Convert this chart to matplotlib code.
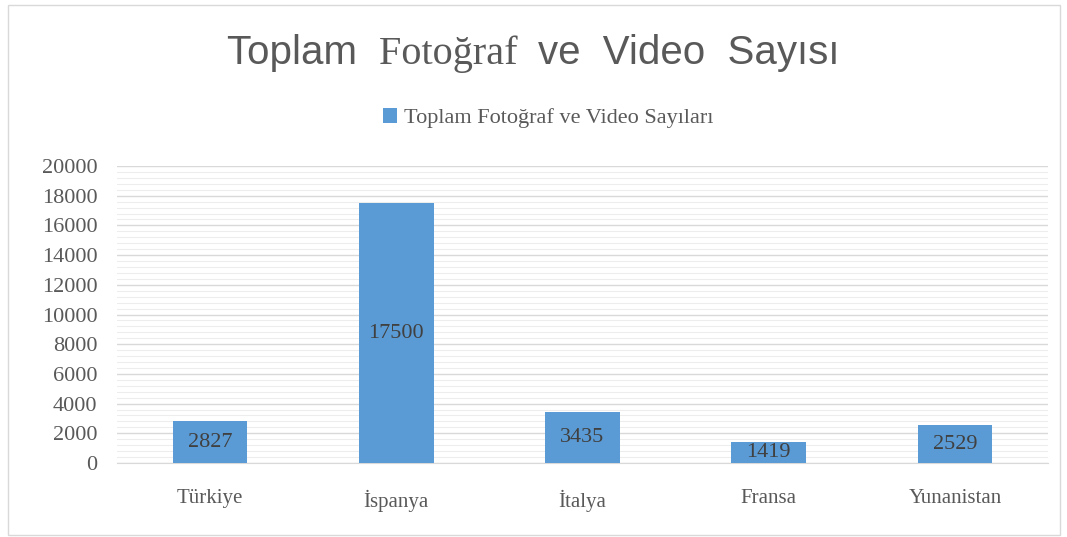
import matplotlib
matplotlib.use("Agg")
import matplotlib.pyplot as plt
from matplotlib.ticker import MultipleLocator
from matplotlib.patches import Rectangle

countries = ["Türkiye", "İspanya", "İtalya", "Fransa", "Yunanistan"]
counts = [2827, 17500, 3435, 1419, 2529]
series_name = "Toplam Fotoğraf ve Video Sayıları"

blue = "#5B9BD5"
grey = "#595959"
serif = "Liberation Serif"
sans = "Liberation Sans"

fig = plt.figure(figsize=(10.67, 5.37), dpi=100)
ax = fig.add_axes([117 / 1067, 1 - 463 / 537, 931 / 1067, 297 / 537])

x = range(len(countries))
bars = ax.bar(x, counts, width=0.4, color=blue, zorder=3, label=series_name)

ax.set_ylim(0, 20000)
ax.set_xlim(-0.5, len(countries) - 0.5)
ax.yaxis.set_major_locator(MultipleLocator(2000))
ax.yaxis.set_minor_locator(MultipleLocator(400))
ax.grid(axis="y", which="major", color="#D9D9D9", lw=1.0, zorder=0)
ax.grid(axis="y", which="minor", color="#EDEDED", lw=0.8, zorder=0)
for s in ["top", "right", "left"]:
    ax.spines[s].set_visible(False)
ax.spines["bottom"].set_color("#D9D9D9")
ax.tick_params(axis="both", which="both", length=0)
ax.tick_params(axis="y", pad=14)
ax.tick_params(axis="x", pad=19)
ax.set_xticks(list(x))
ax.set_xticklabels(countries, fontfamily=serif, fontsize=15, color=grey)
for lab in ax.get_yticklabels():
    lab.set_fontfamily(serif)
    lab.set_fontsize(16)
    lab.set_color(grey)

# value labels in the middle of each bar
for b, v in zip(bars, counts):
    ax.text(b.get_x() + b.get_width() / 2, v / 2, str(v), ha="center", va="center",
            fontfamily=serif, fontsize=16, color="#404040", zorder=4)

# title with mixed fonts, laid out piece by piece
parts = [("Toplam  ", sans), ("Fotoğraf  ", serif), ("ve  Video  Sayısı", sans)]
fig.canvas.draw()
r = fig.canvas.get_renderer()
texts = []
for s, fam in parts:
    t = fig.text(0, 1 - 64 / 537, s, fontsize=29, family=fam, color=grey, va="baseline")
    texts.append(t)
widths = [t.get_window_extent(r).width for t in texts]
xpos = (1067 - sum(widths)) / 2
for t, w in zip(texts, widths):
    t.set_x(xpos / 1067)
    xpos += w

leg = fig.legend(loc="center", bbox_to_anchor=(548 / 1067, 1 - 118 / 537), frameon=False,
                 prop={"family": serif, "size": 16}, handlelength=0.65, handleheight=0.65,
                 handletextpad=0.3)
for t in leg.get_texts():
    t.set_color(grey)

fig.patches.append(Rectangle((8 / 1067, 2 / 537), 1052 / 1067, 530 / 537, transform=fig.transFigure,
                             fill=False, edgecolor="#D9D9D9", lw=1))

fig.savefig("out.png", dpi=100)
